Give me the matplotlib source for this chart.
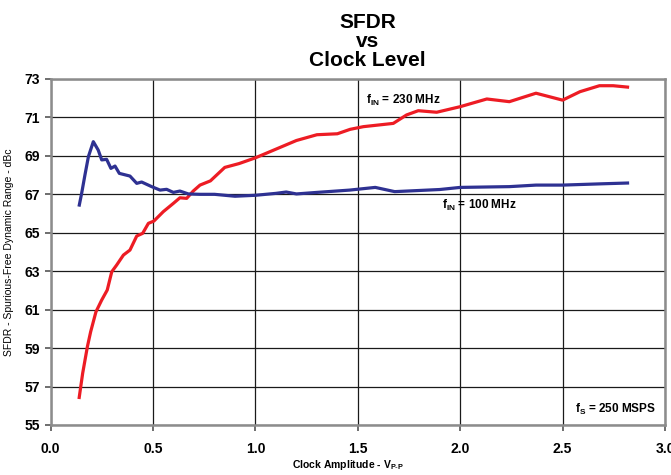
import numpy as np
import matplotlib.pyplot as plt

plt.rcParams['font.family'] = ['Liberation Sans', 'DejaVu Sans']

# fIN = 100 MHz
x_100 = [0.138, 0.151, 0.167, 0.184, 0.208, 0.232, 0.249, 0.273, 0.294, 0.314, 0.335,
         0.387, 0.42, 0.444, 0.493, 0.534, 0.566, 0.599, 0.631, 0.672, 0.729, 0.8,
         0.9, 1.0, 1.1, 1.15, 1.2, 1.3, 1.46, 1.585, 1.68, 1.9, 2.0, 2.24, 2.37,
         2.5, 2.7, 2.825]
y_100 = [66.36, 67.05, 68.0, 68.96, 69.74, 69.3, 68.79, 68.82, 68.35, 68.47, 68.09,
         67.95, 67.57, 67.64, 67.4, 67.22, 67.26, 67.1, 67.17, 67.02, 67.0, 67.0,
         66.9, 66.95, 67.05, 67.12, 67.02, 67.1, 67.22, 67.36, 67.14, 67.25, 67.36,
         67.4, 67.48, 67.48, 67.55, 67.59]

# fIN = 230 MHz
x_230 = [0.138, 0.156, 0.179, 0.195, 0.221, 0.249, 0.276, 0.298, 0.322, 0.355, 0.387,
         0.42, 0.449, 0.477, 0.504, 0.55, 0.599, 0.631, 0.664, 0.696, 0.729, 0.78,
         0.85, 0.92, 1.0, 1.1, 1.2, 1.3, 1.4, 1.462, 1.527, 1.673, 1.738, 1.795,
         1.885, 2.0, 2.13, 2.24, 2.37, 2.5, 2.585, 2.68, 2.747, 2.825]
y_230 = [56.35, 57.69, 59.07, 59.85, 60.89, 61.5, 62.02, 62.97, 63.32, 63.84, 64.1,
         64.83, 64.97, 65.49, 65.61, 66.1, 66.53, 66.82, 66.79, 67.17, 67.48, 67.7,
         68.4, 68.6, 68.9, 69.35, 69.8, 70.1, 70.15, 70.38, 70.52, 70.69, 71.13, 71.35,
         71.27, 71.56, 71.96, 71.82, 72.26, 71.9, 72.34, 72.65, 72.65, 72.57]

xticks = [0.0, 0.5, 1.0, 1.5, 2.0, 2.5, 3.0]
yticks = [55, 57, 59, 61, 63, 65, 67, 69, 71, 73]

fig = plt.figure(figsize=(6.71, 4.75), dpi=100)
ax = fig.add_axes([0.0756, 0.1053, 0.9154, 0.7284])

ax.plot(x_230, y_230, color='#ed1c24', lw=2.3, solid_capstyle='butt')
ax.plot(x_100, y_100, color='#2e3192', lw=2.3, solid_capstyle='butt')

ax.set_xlim(0, 3.0)
ax.set_ylim(55, 73)
ax.set_xticks(xticks)
ax.set_xticklabels([f'{t:.1f}' for t in xticks])
ax.set_yticks(yticks)
ax.grid(True, color='#1a1a1a', lw=0.9)
ax.set_axisbelow(True)
for s in ax.spines.values():
    s.set_color('#8c8c8c')
    s.set_linewidth(1.8)
ax.tick_params(axis='both', direction='out', length=4, width=1.2, color='#555555',
               labelsize=10)
for lab in ax.get_xticklabels() + ax.get_yticklabels():
    lab.set_fontweight('bold')
ax.tick_params(axis='x', pad=8)
ax.tick_params(axis='y', pad=4)

ax.set_xlabel('Clock Amplitude - V$_{\\mathregular{P\\text{-}P}}$', fontsize=7.5,
              fontweight='bold')
ax.set_ylabel('SFDR - Spurious-Free Dynamic Range - dBc', fontsize=7.5)
ax.xaxis.set_label_coords(0.484, -0.095)
ax.yaxis.set_label_coords(-0.06, 0.5)

ax.text(1.54, 71.9, 'f$_{\\mathregular{IN}}$ = 230 MHz', fontsize=8.5,
        fontweight='bold', va='center')
ax.text(1.91, 66.4, 'f$_{\\mathregular{IN}}$ = 100 MHz', fontsize=8.5,
        fontweight='bold', va='center')
ax.text(2.56, 55.8, 'f$_{\\mathregular{S}}$ = 250 MSPS', fontsize=8.5,
        fontweight='bold', va='center')

fig.text(0.548, 0.972, 'SFDR\nvs\nClock Level', ha='center', va='top',
         fontsize=15, fontweight='bold', linespacing=0.98)

fig.savefig('out.png', dpi=100)
